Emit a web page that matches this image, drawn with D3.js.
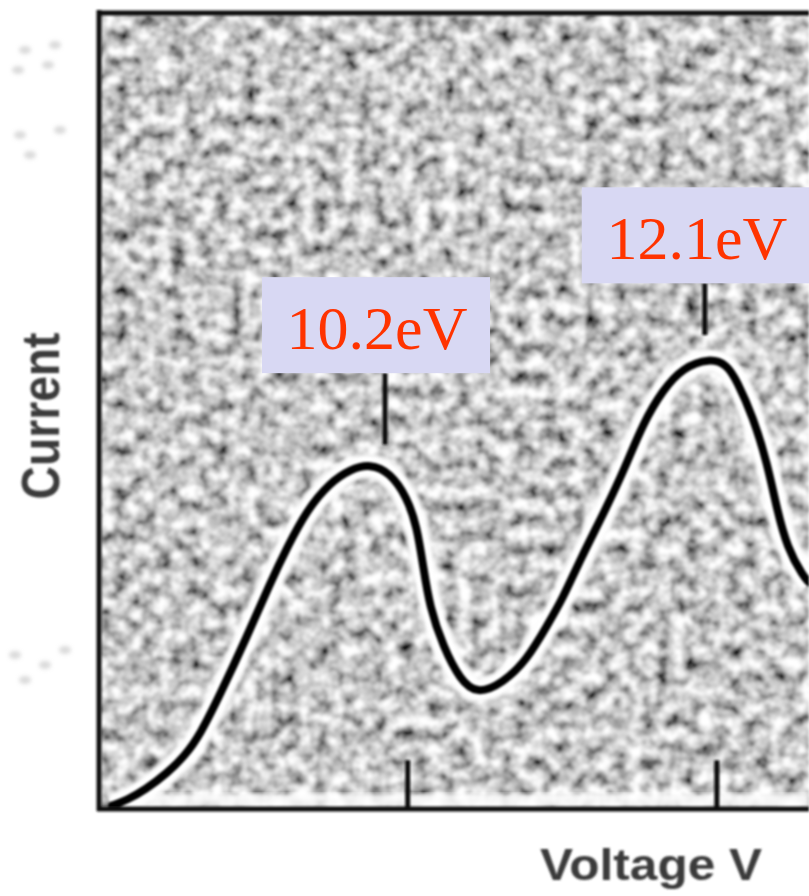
<!DOCTYPE html>
<html><head><meta charset="utf-8">
<script src="https://cdn.jsdelivr.net/npm/d3@7"></script>
<style>body{margin:0;background:#fff}svg{display:block}</style>
</head><body><script>
// Data (arbitrary units: voltage 0-100 across the frame, current 0-100 up the frame)
const voltage = [1.7, 3.8, 6.4, 9.5, 12.0, 14.1, 16.9, 20.7, 24.0, 26.4, 29.2, 32.4, 35.3, 38.1, 40.9, 43.3, 44.7, 45.6, 46.5, 48.4, 50.8, 53.2, 56.8, 60.2, 63.1, 65.3, 67.7, 71.5, 74.1, 76.6, 79.4, 82.2, 86.0, 88.4, 89.8, 92.1, 94.1, 95.5, 96.9, 99.2, 100.0];
const current = [0.3, 1.0, 2.3, 4.4, 6.6, 9.2, 14.2, 21.5, 28.3, 32.8, 37.5, 40.9, 42.6, 43.3, 42.2, 39.1, 35.4, 30.3, 25.3, 20.3, 16.1, 14.3, 15.7, 18.6, 23.0, 26.4, 31.2, 37.9, 42.9, 48.4, 52.6, 55.4, 56.6, 55.8, 53.8, 49.2, 43.4, 37.5, 32.8, 29.1, 28.4];
const tickVoltages = [43.4, 87.0];
const peakLabels = ["10.2eV", "12.1eV"];
const peakVoltages = [40.2, 85.3];
const labelCurrents = [54.7, 66.0];
const pointerCurrents = [45.7, 59.5];
const xTitle = "Voltage V";
const yTitle = "Current";

const W = 809, H = 896;
const L = 100, R = 809, T = 13, B = 808;
const x = d3.scaleLinear().domain([0, 100]).range([L, R]);
const y = d3.scaleLinear().domain([0, 100]).range([B, T]);

const svg = d3.select("body").append("svg").attr("width", W).attr("height", H);
const defs = svg.append("defs");

const noise = defs.append("filter").attr("id", "noise")
  .attr("filterUnits", "userSpaceOnUse")
  .attr("x", L).attr("y", T).attr("width", R - L).attr("height", B - T);
noise.append("feTurbulence").attr("type", "fractalNoise")
  .attr("baseFrequency", "0.07").attr("numOctaves", 3).attr("seed", 11).attr("result", "t");
noise.append("feColorMatrix").attr("in", "t").attr("type", "matrix")
  .attr("values", "1.75 0 0 0 -0.3  1.75 0 0 0 -0.3  1.75 0 0 0 -0.3  0 0 0 0 1").attr("result", "g");
noise.append("feGaussianBlur").attr("in", "g").attr("stdDeviation", 1.4);

const soft = defs.append("filter").attr("id", "soft")
  .attr("x", "-10%").attr("y", "-10%").attr("width", "120%").attr("height", "120%");
soft.append("feGaussianBlur").attr("stdDeviation", 2.2);

const slight = defs.append("filter").attr("id", "slight")
  .attr("x", "-10%").attr("y", "-10%").attr("width", "120%").attr("height", "120%");
slight.append("feGaussianBlur").attr("stdDeviation", 0.8);

defs.append("clipPath").attr("id", "clip").append("rect")
  .attr("x", L).attr("y", T).attr("width", R - L).attr("height", B - T);

// textured background
svg.append("rect").attr("x", L).attr("y", T).attr("width", R - L).attr("height", B - T)
  .attr("fill", "#999").attr("filter", "url(#noise)");

const g = svg.append("g").attr("clip-path", "url(#clip)");

// white band above bottom axis
g.append("rect").attr("x", x(4)).attr("y", B - 14).attr("width", R - x(4)).attr("height", 14)
  .attr("fill", "#fff").attr("filter", "url(#soft)").attr("opacity", 0.85);

const pts = voltage.map((v, i) => [v, current[i]]);
const line = d3.line().x(d => x(d[0])).y(d => y(d[1])).curve(d3.curveBasis);

// halo
g.append("path").attr("d", line(pts)).attr("fill", "none").attr("stroke", "#fff")
  .attr("stroke-width", 24).attr("filter", "url(#soft)");
g.append("path").attr("d", line(pts)).attr("fill", "none").attr("stroke", "#fff")
  .attr("stroke-width", 16).attr("opacity", 0.95).attr("filter", "url(#slight)");
// tick marks with halo
tickVoltages.forEach(v => {
  g.append("line").attr("x1", x(v)).attr("x2", x(v)).attr("y1", y(6.5)).attr("y2", B)
    .attr("stroke", "#fff").attr("stroke-width", 12).attr("filter", "url(#soft)");
});
peakVoltages.forEach((v, i) => {
  g.append("line").attr("x1", x(v)).attr("x2", x(v)).attr("y1", y(labelCurrents[i])).attr("y2", y(pointerCurrents[i]))
    .attr("stroke", "#fff").attr("stroke-width", 10).attr("filter", "url(#soft)").attr("opacity", 0.6);
});

const ink = svg.append("g").attr("filter", "url(#slight)");
const gi = ink.append("g").attr("clip-path", "url(#clip)");
gi.append("path").attr("d", line(pts)).attr("fill", "none").attr("stroke", "#000")
  .attr("stroke-width", 8).attr("stroke-linecap", "round");
tickVoltages.forEach(v => {
  gi.append("line").attr("x1", x(v)).attr("x2", x(v)).attr("y1", y(6.0)).attr("y2", B)
    .attr("stroke", "#111").attr("stroke-width", 5);
});
peakVoltages.forEach((v, i) => {
  gi.append("line").attr("x1", x(v)).attr("x2", x(v)).attr("y1", y(labelCurrents[i])).attr("y2", y(pointerCurrents[i]))
    .attr("stroke", "#111").attr("stroke-width", 5);
});

// frame
ink.append("line").attr("x1", L - 1).attr("x2", L - 1).attr("y1", T - 3).attr("y2", B + 3)
  .attr("stroke", "#111").attr("stroke-width", 5);
ink.append("line").attr("x1", L - 3).attr("x2", R).attr("y1", T).attr("y2", T)
  .attr("stroke", "#111").attr("stroke-width", 5);
ink.append("line").attr("x1", L - 3).attr("x2", R).attr("y1", B + 1).attr("y2", B + 1)
  .attr("stroke", "#111").attr("stroke-width", 5);

// axis titles
const blurText = svg.append("g").attr("filter", "url(#slight)");
blurText.append("text").attr("x", 540).attr("y", 880)
  .attr("font-family", "Liberation Sans, Arial, sans-serif").attr("font-size", 44).attr("font-weight", "bold")
  .attr("fill", "#3a3a3a").attr("textLength", 222).attr("lengthAdjust", "spacingAndGlyphs").text(xTitle);
blurText.append("text").attr("transform", "translate(59,416) rotate(-90)").attr("text-anchor", "middle")
  .attr("font-family", "Liberation Sans, Arial, sans-serif").attr("font-size", 54).attr("font-weight", "bold")
  .attr("fill", "#3a3a3a").attr("textLength", 167).attr("lengthAdjust", "spacingAndGlyphs").text(yTitle);

// faint remnants of tick labels on the left
const faint = svg.append("g").attr("fill", "#bbb").attr("filter", "url(#soft)").attr("opacity", 0.55);
[[25,50],[55,45],[18,70],[48,65],[20,135],[60,130],[30,155],[15,655],[45,665],[65,650],[25,680]].forEach(p => {
  faint.append("ellipse").attr("cx", p[0]).attr("cy", p[1]).attr("rx", 6).attr("ry", 4);
});

// peak labels
peakVoltages.forEach((v, i) => {
  const cx = x(v) - 9;
  const top = y(labelCurrents[i]) - 96;
  svg.append("rect").attr("x", cx - 114).attr("y", top).attr("width", 228).attr("height", 96)
    .attr("fill", "#d8d8f3");
  svg.append("text").attr("x", cx + 1).attr("y", top + 72).attr("text-anchor", "middle")
    .attr("font-family", "Liberation Serif, Times New Roman, serif").attr("font-size", 62)
    .attr("fill", "#ff3300").text(peakLabels[i]);
});
</script></body></html>
